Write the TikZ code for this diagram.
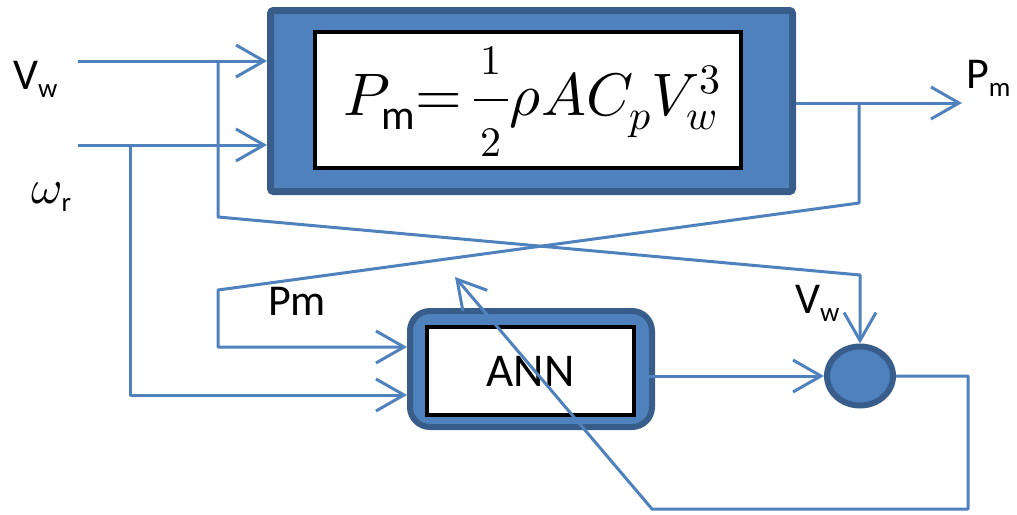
\documentclass[tikz,border=0pt]{standalone}
\usepackage{fontspec}
\usepackage{unicode-math}
\setmainfont{Carlito}
\setmathfont{Latin Modern Math}
\usetikzlibrary{arrows.meta,shapes.geometric}
\definecolor{sigblue}{HTML}{4F81BD}
\definecolor{edgeblue}{HTML}{385D8A}
% label with a lowered small subscript
\newcommand\sublabel[2]{#1\raisebox{-0.2em}{\fontsize{27}{27}\selectfont #2}}
% fraction digit, reduced from display size, padded so the bar stays wide
\newcommand\fracdigit[1]{\mkern2mu\scalebox{0.7}{$#1$}\mkern2mu}
\tikzset{
  wire/.style={draw=sigblue, line width=3pt, line join=round},
  sig/.style={wire, -{Straight Barb[length=28pt,width=32pt]}},
  lbl/.style={inner sep=0, anchor=base west, font=\fontsize{44}{50}\selectfont},
  outerbox/.style={draw=edgeblue, fill=sigblue, inner sep=0},
  innerbox/.style={draw=black, fill=white, line width=4pt, inner sep=0}
}
\begin{document}
\begin{tikzpicture}[x=1pt,y=-1pt]
\useasboundingbox (0,0) rectangle (1017,514);

% turbine power block
\node[outerbox, line width=7pt, rounded corners=3pt, minimum width=522pt, minimum height=181pt] (big) at (531.5,101) {};
\node[innerbox, minimum width=426pt, minimum height=136pt] (eq) at (528,100) {};
\node[inner sep=0, anchor=base, font=\fontsize{60}{68}\selectfont] (formula) at (532,115)
  {$P_{\mathrm{m}}{=}\,\genfrac{}{}{}{0}{\fracdigit{1}}{\fracdigit{2}}\rho A C_p V_w^3$};

% neural network block
\node[outerbox, line width=6pt, rounded corners=20pt, minimum width=242pt, minimum height=116pt] (ann) at (531,369) {};
\node[innerbox, minimum width=207pt, minimum height=88pt, font=\fontsize{47}{52}\selectfont] (annin) at (530.5,371) {ANN};

% comparator
\node[ellipse, outerbox, line width=6pt, minimum width=66pt, minimum height=59pt] (sum) at (860,376) {};

% labels
\node[lbl] (lvw) at (13,89) {\sublabel{V}{w}};
\node[lbl] (lwr) at (31,203) {{\fontsize{48}{50}\selectfont$\omega$}\raisebox{-0.2em}{\fontsize{27}{27}\selectfont r}};
\node[lbl] (lpm) at (966,88) {\sublabel{P}{m}};
\node[lbl] (lpm2) at (268,315) {Pm};
\node[lbl] (lvw2) at (795,313) {\sublabel{V}{w}};

% inputs
\coordinate (vwin) at (78,61);
\coordinate (wrin) at (78,145);
\draw[sig] (vwin) -- (vwin -| big.west);
\draw[sig] (wrin) -- (wrin -| big.west);

% wind speed branch to comparator
\coordinate (vwb) at (218,61);
\coordinate (vwd) at (218,217);
\coordinate (vwc) at (860,275);
\draw[sig] (vwb) -- (vwd) -- (vwc) -- (sum.north);

% rotor speed branch to ANN
\coordinate (wrb) at (130,145);
\coordinate (wrd) at (130,395);
\draw[sig] (wrb) -- (wrd) -- (wrd -| ann.west);

% power output
\coordinate (pmout) at (962,103);
\draw[sig] (pmout -| big.east) -- (pmout);

% power branch to ANN
\coordinate (pmb) at (859,103);
\coordinate (pmd) at (859,203);
\coordinate (pmc) at (218,290);
\coordinate (pme) at (218,347);
\draw[sig] (pmb) -- (pmd) -- (pmc) -- (pme) -- (pme -| ann.west);

% ANN estimate to comparator
\draw[sig] (annin.east |- sum) -- (sum.west);

% error feedback
\coordinate (fb1) at (968,376);
\coordinate (fb2) at (968,509);
\coordinate (fb3) at (652,509);
\coordinate (fbtip) at (455,277);
\draw[sig] (sum.east) -- (fb1) -- (fb2) -- (fb3) -- (fbtip);
\end{tikzpicture}
\end{document}
